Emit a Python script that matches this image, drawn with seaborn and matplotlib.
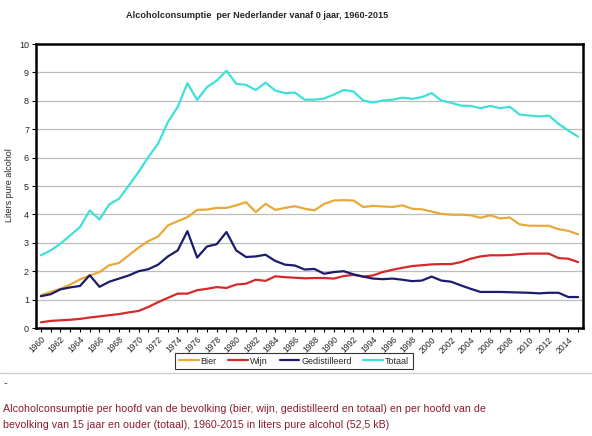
import matplotlib
matplotlib.use("Agg")
import matplotlib.pyplot as plt
import seaborn as sns
import pandas as pd
import numpy as np

years = list(range(1960, 2016))

bier = [1.15, 1.27, 1.38, 1.53, 1.71, 1.85, 1.97, 2.21, 2.29, 2.56,
        2.83, 3.06, 3.22, 3.61, 3.76, 3.90, 4.16, 4.17, 4.23, 4.23,
        4.32, 4.43, 4.08, 4.37, 4.16, 4.23, 4.29, 4.20, 4.14, 4.37,
        4.49, 4.50, 4.49, 4.26, 4.30, 4.28, 4.26, 4.32, 4.20, 4.18,
        4.10, 4.02, 3.99, 3.99, 3.97, 3.88, 3.97, 3.86, 3.89, 3.65,
        3.60, 3.60, 3.60, 3.48, 3.42, 3.30]

wijn = [0.20, 0.25, 0.27, 0.29, 0.32, 0.37, 0.41, 0.45, 0.49, 0.55,
        0.60, 0.74, 0.91, 1.06, 1.21, 1.21, 1.33, 1.38, 1.44, 1.41,
        1.53, 1.56, 1.70, 1.66, 1.82, 1.79, 1.77, 1.75, 1.76, 1.76,
        1.74, 1.83, 1.87, 1.81, 1.85, 1.97, 2.05, 2.12, 2.18, 2.21,
        2.24, 2.25, 2.25, 2.32, 2.44, 2.52, 2.56, 2.56, 2.57, 2.60,
        2.62, 2.62, 2.62, 2.46, 2.44, 2.32]

gedistilleerd = [1.12, 1.19, 1.36, 1.43, 1.48, 1.86, 1.45, 1.63, 1.74, 1.85,
                 2.00, 2.07, 2.23, 2.52, 2.73, 3.41, 2.48, 2.87, 2.95, 3.38,
                 2.73, 2.50, 2.52, 2.58, 2.36, 2.23, 2.20, 2.06, 2.08, 1.91,
                 1.97, 2.00, 1.89, 1.81, 1.74, 1.72, 1.74, 1.70, 1.65, 1.67,
                 1.81, 1.67, 1.63, 1.50, 1.38, 1.27, 1.27, 1.27, 1.26, 1.25,
                 1.24, 1.22, 1.24, 1.24, 1.09, 1.09]

totaal = [2.56, 2.73, 2.97, 3.26, 3.55, 4.14, 3.82, 4.35, 4.55, 5.02,
          5.49, 6.02, 6.49, 7.25, 7.78, 8.62, 8.03, 8.48, 8.71, 9.06,
          8.60, 8.56, 8.38, 8.64, 8.36, 8.27, 8.29, 8.04, 8.04, 8.08,
          8.22, 8.38, 8.33, 8.01, 7.94, 8.01, 8.04, 8.11, 8.07, 8.13,
          8.27, 8.01, 7.93, 7.83, 7.82, 7.74, 7.82, 7.74, 7.79, 7.52,
          7.48, 7.45, 7.48, 7.19, 6.95, 6.74]

series_names = ["Bier", "Wijn", "Gedistilleerd", "Totaal"]
colors = ["#E8A93A", "#D42A2A", "#1C1C6E", "#3FE0D8"]
yticks = list(range(0, 11))

df = pd.DataFrame({"Jaar": years * 4,
                   "Waarde": bier + wijn + gedistilleerd + totaal,
                   "Soort": sum([[n] * len(years) for n in series_names], [])})

sns.set_style("white")
plt.rcParams["font.family"] = ["Liberation Sans", "DejaVu Sans"]

fig = plt.figure(figsize=(5.92, 4.36), dpi=100)
ax = fig.add_axes([36 / 592, 1 - 328 / 436, 547 / 592, 284 / 436])

sns.lineplot(data=df, x="Jaar", y="Waarde", hue="Soort", hue_order=series_names,
             palette=colors, linewidth=1.6, ax=ax, legend=True)

ax.set_xlim(1959.5, 2015.5)
ax.set_ylim(0, 10)
ax.set_yticks(yticks)
ax.set_yticklabels([str(t) for t in yticks], fontsize=6.5)
ax.set_xticks(years)
ax.set_xticklabels([str(y) if (y - 1960) % 2 == 0 else "" for y in years],
                   fontsize=6.2, rotation=45, ha="right", rotation_mode="anchor")
ax.tick_params(axis="x", length=3, width=0.8, color="black", direction="out", pad=2, bottom=True)
ax.tick_params(axis="y", length=3, width=0.8, color="black", direction="out", pad=2, left=True)
ax.yaxis.grid(True, color="#BDBDBD", linewidth=0.9)
ax.set_axisbelow(True)
for s in ax.spines.values():
    s.set_color("black")
    s.set_linewidth(1.8)
ax.set_xlabel("")
ax.set_ylabel("Liters pure alcohol", fontsize=6.5)
ax.yaxis.set_label_coords((14 - 36) / 547, (328 - 185) / 284)

handles, labels = ax.get_legend_handles_labels()
ax.get_legend().remove()
leg = fig.legend(handles, labels, loc="center", bbox_to_anchor=(294 / 592, 1 - 361 / 436),
                 ncol=4, fontsize=6.5, frameon=True, fancybox=False, edgecolor="black",
                 handlelength=2.2, handletextpad=0.2, columnspacing=1.3, borderpad=0.4)
leg.get_frame().set_linewidth(0.8)

fig.text(257 / 592, 1 - 15 / 436, "Alcoholconsumptie  per Nederlander vanaf 0 jaar, 1960-2015",
         ha="center", va="center", fontsize=6.6, fontweight="bold")

fig.add_artist(plt.Line2D([0, 1], [1 - 373 / 436, 1 - 373 / 436], color="#D0D0D0", linewidth=1.0))
fig.text(3 / 592, 1 - 383 / 436, "-", ha="left", va="center", fontsize=8, color="#333333")
cap_color = "#8E1B2C"
fig.text(3 / 592, 1 - 409 / 436,
         "Alcoholconsumptie per hoofd van de bevolking (bier, wijn, gedistilleerd en totaal) en per hoofd van de",
         ha="left", va="center", fontsize=7.65, color=cap_color)
fig.text(3 / 592, 1 - 425 / 436,
         "bevolking van 15 jaar en ouder (totaal), 1960-2015 in liters pure alcohol (52,5 kB)",
         ha="left", va="center", fontsize=7.65, color=cap_color)

fig.savefig("out.png", dpi=100)
